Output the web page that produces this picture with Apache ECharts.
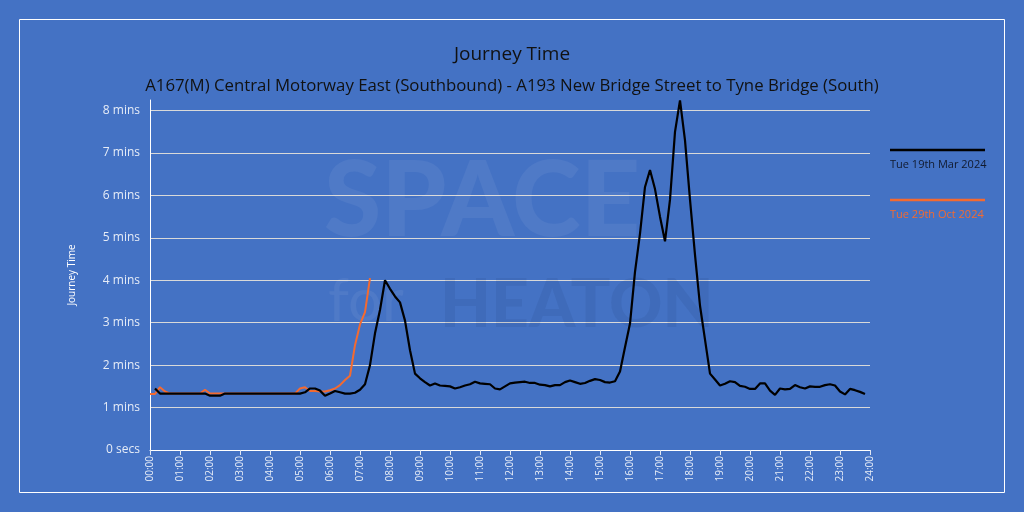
<!DOCTYPE html>
<html>
<head>
<meta charset="utf-8">
<script src="https://cdn.jsdelivr.net/npm/echarts@6/dist/echarts.min.js"></script>
<style>
html,body{margin:0;padding:0;background:#4472C4;}
#chart{width:1024px;height:512px;}
</style>
</head>
<body>
<div id="chart"></div>
<script>
// ---- Data ----
const chartTitle = 'Journey Time';
const chartSubtitle = 'A167(M) Central Motorway East (Southbound) - A193 New Bridge Street to Tyne Bridge (South)';
const yAxisName = 'Journey Time';
const seriesNames = ['Tue 19th Mar 2024', 'Tue 29th Oct 2024'];
// sample step (minutes) and first sample time (minutes after midnight)
const stepMinutes = 10;
const marStartMinutes = 10;
const octStartMinutes = 0;
// journey time in minutes, Tue 19th Mar 2024 (00:10 .. 23:50 every 10 min)
const marValues = [
  1.45,1.33,1.33,1.33,1.33,1.33,1.33,1.33,1.33,1.33,
  1.33,1.28,1.28,1.28,1.33,1.33,1.33,1.33,1.33,1.33,
  1.33,1.33,1.33,1.33,1.33,1.33,1.33,1.33,1.33,1.33,
  1.36,1.45,1.45,1.40,1.28,1.33,1.39,1.36,1.33,1.33,
  1.35,1.42,1.55,2.00,2.75,3.30,4.00,3.80,3.62,3.48,
  3.05,2.35,1.80,1.69,1.60,1.52,1.57,1.52,1.51,1.50,
  1.45,1.48,1.52,1.55,1.61,1.57,1.56,1.55,1.45,1.43,
  1.50,1.57,1.59,1.60,1.61,1.58,1.58,1.54,1.53,1.50,
  1.53,1.53,1.60,1.64,1.60,1.56,1.58,1.63,1.67,1.65,
  1.60,1.59,1.62,1.85,2.42,2.98,4.20,5.10,6.20,6.60,
  6.15,5.50,4.92,5.90,7.50,8.24,7.30,5.90,4.60,3.40,
  2.60,1.80,1.66,1.52,1.56,1.62,1.60,1.51,1.49,1.44,
  1.44,1.57,1.57,1.40,1.30,1.45,1.43,1.44,1.53,1.48,
  1.45,1.50,1.49,1.49,1.53,1.55,1.52,1.38,1.31,1.44,
  1.41,1.37,1.32
];
// journey time in minutes, Tue 29th Oct 2024 (00:00 .. 07:20 every 10 min)
const octValues = [
  1.32,1.32,1.48,1.38,1.33,1.33,1.33,1.33,1.33,1.33,
  1.33,1.42,1.33,1.33,1.33,1.33,1.33,1.33,1.33,1.33,
  1.33,1.33,1.33,1.33,1.33,1.33,1.33,1.33,1.33,1.33,
  1.45,1.48,1.39,1.39,1.38,1.38,1.41,1.45,1.53,1.65,
  1.75,2.47,2.96,3.25,4.05
];
const xTickHours = [0,1,2,3,4,5,6,7,8,9,10,11,12,13,14,15,16,17,18,19,20,21,22,23,24];
const yMax = 8.25;

function toPoints(vals, start) {
  return vals.map((v, i) => [(start + i * stepMinutes) / 60, v]);
}
function hh(h) { return (h < 10 ? '0' : '') + h + ':00'; }

const FONT = '"Open Sans", "Noto Sans", sans-serif';
const chart = echarts.init(document.getElementById('chart'), null, {renderer: 'canvas'});
chart.setOption({
  backgroundColor: '#4472C4',
  animation: false,
  title: [
    {text: chartTitle, left: 'center', top: 40,
     textStyle: {fontFamily: FONT, fontSize: 19, fontWeight: 'normal', color: '#111'}},
    {text: chartSubtitle, left: 'center', top: 73,
     textStyle: {fontFamily: FONT, fontSize: 16.8, fontWeight: 'normal', color: '#111'}}
  ],
  grid: {left: 150, right: 154, top: 100, bottom: 62, containLabel: false},
  xAxis: {
    type: 'value', min: xTickHours[0], max: xTickHours[xTickHours.length - 1], interval: 1,
    axisLine: {show: true, lineStyle: {color: '#ffffff', width: 1}},
    axisTick: {show: true, length: 5, lineStyle: {color: '#e0e6f2'}},
    splitLine: {show: false},
    axisLabel: {rotate: 90, fontSize: 10, color: '#e6ecf7', fontFamily: FONT, margin: 6,
      formatter: v => hh(v)}
  },
  yAxis: {
    type: 'value', min: 0, max: yMax, interval: 1,
    name: yAxisName, nameLocation: 'middle', nameRotate: 90, nameGap: 73,
    nameTextStyle: {fontSize: 10, color: '#ffffff', fontFamily: FONT},
    axisLine: {show: true, lineStyle: {color: '#ffffff', width: 1}},
    axisTick: {show: false},
    splitLine: {show: true, showMaxLine: false, lineStyle: {color: '#d9d9d9', width: 1}},
    axisLabel: {fontSize: 12, color: '#e6ecf7', fontFamily: FONT, margin: 10, showMaxLabel: false,
      formatter: v => (Math.abs(v - Math.round(v)) > 1e-6 ? '' : (v === 0 ? '0 secs' : v + ' mins'))}
  },
  series: [
    {name: seriesNames[1], type: 'line', data: toPoints(octValues, octStartMinutes),
     showSymbol: false, symbol: 'none', z: 2,
     lineStyle: {color: '#F46A30', width: 2}},
    {name: seriesNames[0], type: 'line', data: toPoints(marValues, marStartMinutes),
     showSymbol: false, symbol: 'none', z: 3,
     lineStyle: {color: '#000000', width: 2.2}}
  ],
  graphic: [
    {type: 'rect', shape: {x: 19.5, y: 19.5, width: 985, height: 473},
     style: {fill: 'none', stroke: '#ffffff', lineWidth: 1}, z: 0, silent: true},
    // watermark
    {type: 'text', left: 324, top: 150, z: 1, silent: true,
     style: {text: 'SPACE', font: '900 104px Lato, "Open Sans", sans-serif', fill: 'rgba(255,255,255,0.06)'}},
    {type: 'text', left: 328, top: 272, z: 1, silent: true,
     style: {text: 'for', font: '60px Lato, "Open Sans", sans-serif', fill: 'rgba(255,255,255,0.06)'}},
    {type: 'text', left: 440, top: 273, z: 1, silent: true,
     style: {text: 'HEATON', font: '900 66px Lato, "Open Sans", sans-serif', fill: 'rgba(20,40,90,0.09)'}},
    // legend
    {type: 'line', shape: {x1: 890, y1: 150, x2: 985, y2: 150}, style: {stroke: '#000000', lineWidth: 2.5}},
    {type: 'text', left: 890, top: 159, style: {text: seriesNames[0], font: '11px "Open Sans", sans-serif', fill: '#111a2e'}},
    {type: 'line', shape: {x1: 890, y1: 200, x2: 985, y2: 200}, style: {stroke: '#F46A30', lineWidth: 2.5}},
    {type: 'text', left: 890, top: 209, style: {text: seriesNames[1], font: '11px "Open Sans", sans-serif', fill: '#F46A30'}}
  ]
});
</script>
</body>
</html>
